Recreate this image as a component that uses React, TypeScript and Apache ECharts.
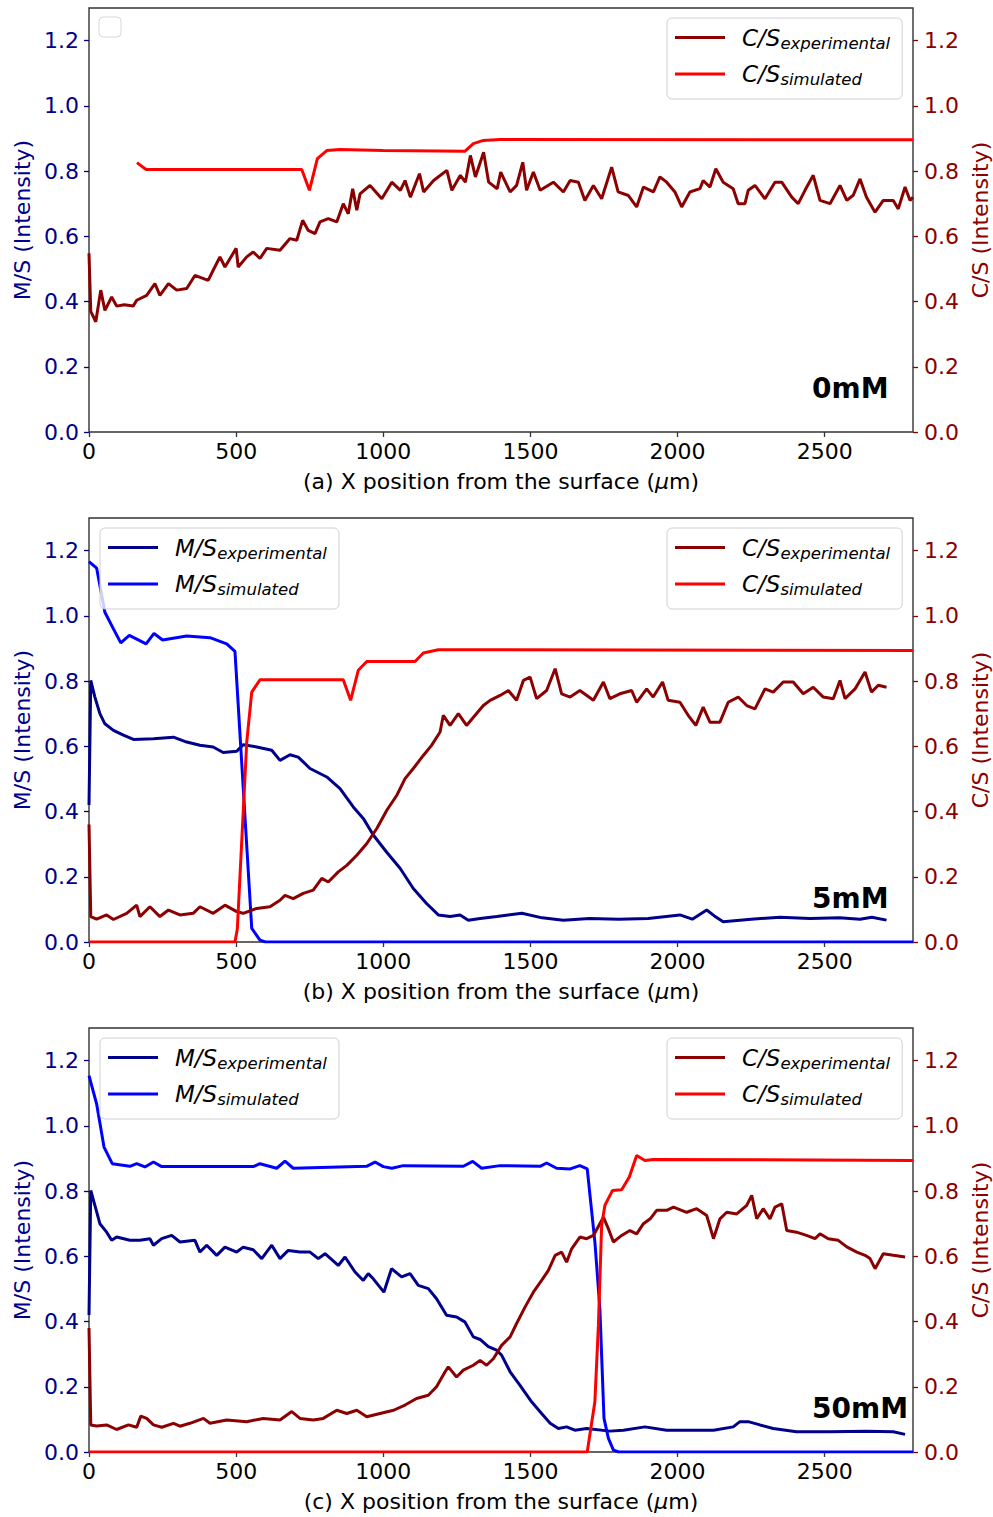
import React, { useEffect, useRef } from "react";
import * as echarts from "echarts";

const FONT = '"DejaVu Sans", "Noto Sans", sans-serif';
const NAVY = "#00008B";
const DRED = "#8B0000";

const X_TICKS = [0, 500, 1000, 1500, 2000, 2500];
const Y_TICKS = [0, 0.2, 0.4, 0.6, 0.8, 1.0, 1.2];
const PANEL_TAGS = ["0mM", "5mM", "50mM"];
const X_NAMES = [
  "(a) X position from the surface ({mu|μ}m)",
  "(b) X position from the surface ({mu|μ}m)",
  "(c) X position from the surface ({mu|μ}m)",
];

// Panel (a) 0mM
const cs0Exp: number[][] = [
  [0, 0.548], [6, 0.37], [23, 0.338], [40, 0.435], [54, 0.373], [77, 0.414], [94, 0.386], [120, 0.39], [150, 0.386],
  [162, 0.404], [196, 0.419], [224, 0.455], [241, 0.419], [270, 0.455], [298, 0.435], [332, 0.44], [360, 0.48],
  [405, 0.465], [422, 0.496], [445, 0.537], [462, 0.506], [500, 0.563], [507, 0.506], [536, 0.537], [558, 0.552],
  [581, 0.532], [604, 0.563], [649, 0.557], [683, 0.593], [706, 0.588], [726, 0.649], [745, 0.618], [768, 0.608],
  [785, 0.644], [813, 0.654], [842, 0.644], [864, 0.7], [881, 0.669], [896, 0.746], [910, 0.68], [921, 0.73],
  [955, 0.756], [995, 0.715], [1029, 0.766], [1058, 0.741], [1074, 0.771], [1092, 0.72], [1123, 0.792], [1137, 0.736],
  [1171, 0.771], [1216, 0.802], [1233, 0.741], [1262, 0.787], [1279, 0.766], [1296, 0.848], [1313, 0.782],
  [1341, 0.858], [1358, 0.766], [1387, 0.746], [1399, 0.797], [1431, 0.736], [1453, 0.756], [1474, 0.827],
  [1487, 0.741], [1510, 0.797], [1533, 0.741], [1578, 0.766], [1612, 0.736], [1635, 0.771], [1663, 0.766],
  [1685, 0.71], [1714, 0.756], [1742, 0.715], [1776, 0.812], [1798, 0.736], [1833, 0.725], [1861, 0.69],
  [1884, 0.751], [1918, 0.736], [1940, 0.782], [1963, 0.766], [1991, 0.736], [2014, 0.69], [2042, 0.736],
  [2076, 0.746], [2087, 0.771], [2110, 0.751], [2130, 0.807], [2155, 0.766], [2189, 0.746], [2206, 0.7],
  [2229, 0.7], [2240, 0.741], [2263, 0.756], [2297, 0.715], [2331, 0.766], [2354, 0.766], [2388, 0.72], [2410, 0.7],
  [2433, 0.741], [2461, 0.787], [2484, 0.71], [2518, 0.7], [2552, 0.756], [2575, 0.71], [2597, 0.726], [2620, 0.776],
  [2642, 0.72], [2671, 0.674], [2699, 0.71], [2733, 0.71], [2750, 0.684], [2773, 0.751], [2790, 0.71], [2800, 0.72],
];
const cs0Sim: number[][] = [
  [163, 0.826], [194, 0.805], [723, 0.805], [749, 0.741], [776, 0.838], [808, 0.863], [853, 0.866], [1000, 0.863],
  [1278, 0.861], [1306, 0.884], [1340, 0.894], [1397, 0.897], [2800, 0.896],
];

// Panel (b) 5mM
const ms5Exp: number[][] = [
  [0, 0.42], [6, 0.802], [20, 0.751], [37, 0.7], [54, 0.669], [83, 0.649], [117, 0.634], [151, 0.621], [219, 0.623],
  [287, 0.628], [332, 0.613], [377, 0.603], [422, 0.598], [456, 0.581], [502, 0.585], [524, 0.605], [570, 0.598],
  [621, 0.588], [649, 0.557], [683, 0.574], [711, 0.567], [751, 0.532], [808, 0.506], [853, 0.47], [898, 0.414],
  [932, 0.379], [966, 0.328], [1011, 0.276], [1057, 0.226], [1102, 0.164], [1147, 0.118], [1187, 0.083],
  [1227, 0.078], [1261, 0.083], [1289, 0.067], [1329, 0.072], [1386, 0.078], [1471, 0.088], [1540, 0.074],
  [1612, 0.067], [1700, 0.072], [1800, 0.07], [1900, 0.072], [2008, 0.083], [2050, 0.07], [2099, 0.098],
  [2125, 0.08], [2155, 0.062], [2250, 0.07], [2348, 0.076], [2450, 0.072], [2550, 0.074], [2620, 0.07],
  [2660, 0.076], [2710, 0.067],
];
const ms5Sim: number[][] = [
  [0, 1.166], [26, 1.146], [54, 1.011], [83, 0.96], [108, 0.917], [137, 0.94], [194, 0.914], [221, 0.946],
  [250, 0.926], [332, 0.938], [411, 0.933], [468, 0.914], [496, 0.891], [553, 0.042], [581, 0.006], [600, 0],
  [2800, 0],
];
const cs5Exp: number[][] = [
  [0, 0.36], [6, 0.078], [26, 0.07], [60, 0.083], [83, 0.069], [128, 0.088], [162, 0.113], [173, 0.078],
  [207, 0.108], [241, 0.078], [270, 0.098], [309, 0.083], [354, 0.088], [377, 0.108], [422, 0.088], [462, 0.113],
  [502, 0.093], [524, 0.088], [570, 0.103], [615, 0.108], [649, 0.128], [666, 0.143], [694, 0.133], [728, 0.149],
  [762, 0.159], [791, 0.195], [813, 0.184], [847, 0.215], [876, 0.235], [910, 0.266], [944, 0.302], [978, 0.348],
  [1012, 0.404], [1046, 0.45], [1074, 0.501], [1102, 0.532], [1136, 0.572], [1164, 0.603], [1193, 0.644],
  [1204, 0.695], [1227, 0.664], [1255, 0.7], [1283, 0.664], [1312, 0.695], [1340, 0.725], [1363, 0.741],
  [1397, 0.756], [1425, 0.771], [1453, 0.741], [1476, 0.802], [1499, 0.812], [1521, 0.746], [1555, 0.771],
  [1584, 0.838], [1606, 0.761], [1635, 0.751], [1668, 0.771], [1714, 0.741], [1748, 0.797], [1770, 0.746],
  [1804, 0.761], [1844, 0.771], [1861, 0.735], [1895, 0.776], [1917, 0.751], [1949, 0.797], [1968, 0.741],
  [2008, 0.735], [2036, 0.695], [2062, 0.664], [2087, 0.72], [2110, 0.674], [2144, 0.674], [2172, 0.735],
  [2206, 0.751], [2235, 0.725], [2263, 0.715], [2297, 0.776], [2325, 0.766], [2359, 0.797], [2393, 0.797],
  [2427, 0.761], [2461, 0.781], [2495, 0.751], [2529, 0.746], [2552, 0.802], [2569, 0.746], [2603, 0.776],
  [2637, 0.828], [2659, 0.766], [2682, 0.787], [2710, 0.781],
];
const cs5Sim: number[][] = [
  [0, 0], [496, 0], [504, 0.04], [536, 0.613], [553, 0.766], [581, 0.804], [864, 0.804], [889, 0.741], [915, 0.833],
  [944, 0.86], [1108, 0.86], [1136, 0.886], [1187, 0.896], [2800, 0.894],
];

// Panel (c) 50mM
const ms50Exp: number[][] = [
  [0, 0.42], [6, 0.802], [20, 0.756], [37, 0.7], [60, 0.674], [77, 0.649], [94, 0.659], [139, 0.649], [173, 0.649],
  [207, 0.654], [219, 0.634], [247, 0.654], [281, 0.664], [309, 0.644], [360, 0.649], [377, 0.613], [400, 0.634],
  [434, 0.603], [462, 0.628], [502, 0.613], [524, 0.628], [558, 0.62], [587, 0.593], [621, 0.634], [649, 0.593],
  [677, 0.618], [717, 0.613], [751, 0.613], [779, 0.593], [802, 0.608], [847, 0.572], [870, 0.598], [904, 0.552],
  [932, 0.526], [949, 0.547], [966, 0.531], [1002, 0.49], [1028, 0.562], [1062, 0.537], [1091, 0.547],
  [1119, 0.511], [1153, 0.501], [1181, 0.47], [1215, 0.419], [1249, 0.414], [1277, 0.399], [1306, 0.353],
  [1329, 0.345], [1357, 0.323], [1385, 0.312], [1402, 0.297], [1431, 0.246], [1464, 0.205], [1504, 0.154],
  [1538, 0.118], [1567, 0.088], [1595, 0.072], [1623, 0.077], [1651, 0.067], [1691, 0.072], [1770, 0.064],
  [1816, 0.067], [1889, 0.077], [1963, 0.067], [2054, 0.067], [2122, 0.067], [2189, 0.077], [2212, 0.093],
  [2240, 0.093], [2280, 0.083], [2325, 0.072], [2404, 0.062], [2518, 0.062], [2642, 0.064], [2733, 0.062],
  [2773, 0.054],
];
const ms50Sim: number[][] = [
  [0, 1.154], [26, 1.067], [51, 0.935], [79, 0.884], [139, 0.876], [162, 0.884], [190, 0.874], [219, 0.889],
  [247, 0.875], [558, 0.875], [581, 0.884], [638, 0.87], [666, 0.892], [694, 0.87], [943, 0.876], [972, 0.889],
  [1000, 0.875], [1029, 0.87], [1068, 0.878], [1272, 0.876], [1304, 0.891], [1334, 0.87], [1397, 0.878],
  [1533, 0.876], [1555, 0.886], [1589, 0.87], [1635, 0.868], [1668, 0.878], [1693, 0.868], [1719, 0.644],
  [1736, 0.44], [1750, 0.103], [1765, 0.042], [1782, 0.006], [1800, 0], [2800, 0],
];
const cs50Exp: number[][] = [
  [0, 0.38], [6, 0.083], [26, 0.08], [60, 0.083], [94, 0.069], [134, 0.083], [162, 0.076], [176, 0.11],
  [196, 0.103], [219, 0.083], [247, 0.076], [287, 0.088], [309, 0.079], [343, 0.088], [389, 0.103], [411, 0.088],
  [468, 0.098], [536, 0.093], [592, 0.103], [649, 0.098], [689, 0.124], [717, 0.103], [762, 0.098], [796, 0.103],
  [842, 0.128], [876, 0.118], [910, 0.128], [944, 0.108], [989, 0.118], [1035, 0.128], [1074, 0.144],
  [1113, 0.164], [1153, 0.174], [1181, 0.2], [1210, 0.246], [1221, 0.261], [1249, 0.23], [1272, 0.251],
  [1306, 0.266], [1329, 0.281], [1351, 0.266], [1374, 0.286], [1402, 0.327], [1431, 0.353], [1453, 0.394],
  [1482, 0.445], [1510, 0.49], [1538, 0.526], [1561, 0.557], [1584, 0.603], [1606, 0.613], [1623, 0.582],
  [1640, 0.623], [1668, 0.659], [1691, 0.654], [1714, 0.664], [1748, 0.72], [1765, 0.684], [1782, 0.644],
  [1810, 0.664], [1838, 0.679], [1861, 0.669], [1884, 0.7], [1907, 0.715], [1929, 0.741], [1963, 0.741],
  [1986, 0.751], [2031, 0.735], [2065, 0.746], [2099, 0.725], [2122, 0.654], [2144, 0.715], [2167, 0.735],
  [2201, 0.73], [2235, 0.756], [2252, 0.787], [2269, 0.715], [2291, 0.746], [2314, 0.715], [2331, 0.751],
  [2354, 0.761], [2371, 0.679], [2404, 0.674], [2438, 0.664], [2467, 0.654], [2484, 0.669], [2512, 0.654],
  [2546, 0.649], [2575, 0.629], [2609, 0.613], [2637, 0.603], [2654, 0.593], [2671, 0.562], [2699, 0.608],
  [2733, 0.603], [2773, 0.598],
];
const cs50Sim: number[][] = [
  [0, 0], [1693, 0], [1719, 0.154], [1731, 0.389], [1742, 0.695], [1753, 0.756], [1779, 0.802], [1810, 0.804],
  [1836, 0.843], [1861, 0.909], [1889, 0.894], [1917, 0.897], [2800, 0.894],
];

const MS_EXP = "M/S experimental";
const MS_SIM = "M/S simulated";
const CS_EXP = "C/S experimental";
const CS_SIM = "C/S simulated";

const GRID_TOPS = [8, 518, 1028];
const GRID_LEFT = 89;
const GRID_W = 824;
const GRID_H = 424;

function legendFormatter(name: string) {
  const [main, sub] = name.split(" ");
  return `{sp| }{m|${main}}{s|${sub}}`;
}

const legendRich = {
  sp: { width: 12, fontSize: 10 },
  m: { fontSize: 23, fontStyle: "italic", fontFamily: FONT, color: "#000", lineHeight: 28 },
  s: { fontSize: 16.5, fontStyle: "italic", fontFamily: FONT, color: "#000", padding: [11, 0, 0, 0] },
};

function makeLegend(left: number, top: number, names: string[]) {
  return {
    orient: "vertical",
    left,
    top,
    data: names,
    icon: "rect",
    itemWidth: 50,
    itemHeight: 3,
    itemGap: 11,
    padding: [8, 12, 11, 8],
    backgroundColor: "rgba(255,255,255,0.8)",
    borderColor: "#d0d0d0",
    borderWidth: 1,
    borderRadius: 5,
    selectedMode: false,
    formatter: legendFormatter,
    textStyle: { rich: legendRich, fontFamily: FONT, color: "#000" },
  };
}

function lineSeries(name: string, data: number[][], color: string, xi: number, yi: number) {
  return {
    type: "line",
    name,
    data,
    xAxisIndex: xi,
    yAxisIndex: yi,
    showSymbol: false,
    symbol: "none",
    lineStyle: { color, width: 3 },
    itemStyle: { color },
    silent: true,
  };
}

export default function App() {
  const ref = useRef<HTMLDivElement>(null);

  useEffect(() => {
    if (!ref.current) return;
    const chart = echarts.init(ref.current, undefined, { renderer: "svg" });

    const grid = GRID_TOPS.map((top) => ({
      left: GRID_LEFT,
      top,
      width: GRID_W,
      height: GRID_H,
      show: true,
      borderColor: "#333",
      borderWidth: 1.4,
      backgroundColor: "transparent",
      containLabel: false,
      outerBoundsMode: "none",
    }));

    const xAxis = GRID_TOPS.map((_, i) => ({
      type: "value",
      gridIndex: i,
      min: 0,
      max: 2800,
      interval: 500,
      axisLine: { show: false },
      axisTick: { show: true, length: 5, lineStyle: { color: "#333", width: 1.3 }, customValues: X_TICKS },
      axisLabel: {
        fontSize: 22,
        color: "#000",
        fontFamily: FONT,
        margin: 8,
        customValues: X_TICKS,
        formatter: (v: number) => String(v),
      },
      splitLine: { show: false },
      name: X_NAMES[i],
      nameLocation: "middle",
      nameGap: 38,
      nameTextStyle: {
        fontSize: 22,
        color: "#000",
        fontFamily: FONT,
        rich: { mu: { fontSize: 22, fontStyle: "italic", fontFamily: FONT, color: "#000" } },
      },
    }));

    const yAxis: any[] = [];
    GRID_TOPS.forEach((_, i) => {
      yAxis.push({
        type: "value",
        gridIndex: i,
        position: "left",
        min: 0,
        max: 1.3,
        interval: 0.2,
        axisLine: { show: false },
        axisTick: { show: true, length: 5, lineStyle: { color: NAVY, width: 1.3 }, customValues: Y_TICKS },
        axisLabel: {
          fontSize: 22,
          color: NAVY,
          fontFamily: FONT,
          margin: 10,
          customValues: Y_TICKS,
          formatter: (v: number) => v.toFixed(1),
        },
        splitLine: { show: false },
        name: "M/S (Intensity)",
        nameLocation: "middle",
        nameRotate: 90,
        nameGap: 56,
        nameTextStyle: { fontSize: 22, color: NAVY, fontFamily: FONT },
      });
      yAxis.push({
        type: "value",
        gridIndex: i,
        position: "right",
        min: 0,
        max: 1.3,
        interval: 0.2,
        axisLine: { show: false },
        axisTick: { show: true, length: 5, lineStyle: { color: DRED, width: 1.3 }, customValues: Y_TICKS },
        axisLabel: {
          fontSize: 22,
          color: DRED,
          fontFamily: FONT,
          margin: 11,
          customValues: Y_TICKS,
          formatter: (v: number) => v.toFixed(1),
        },
        splitLine: { show: false },
        name: "C/S (Intensity)",
        nameLocation: "middle",
        nameRotate: 90,
        nameGap: 52,
        nameTextStyle: { fontSize: 22, color: DRED, fontFamily: FONT },
      });
    });

    const series = [
      lineSeries(CS_EXP, cs0Exp, DRED, 0, 1),
      lineSeries(CS_SIM, cs0Sim, "#FF0000", 0, 1),
      lineSeries(MS_EXP, ms5Exp, NAVY, 1, 2),
      lineSeries(MS_SIM, ms5Sim, "#0000FF", 1, 2),
      lineSeries(CS_EXP, cs5Exp, DRED, 1, 3),
      lineSeries(CS_SIM, cs5Sim, "#FF0000", 1, 3),
      lineSeries(MS_EXP, ms50Exp, NAVY, 2, 4),
      lineSeries(MS_SIM, ms50Sim, "#0000FF", 2, 4),
      lineSeries(CS_EXP, cs50Exp, DRED, 2, 5),
      lineSeries(CS_SIM, cs50Sim, "#FF0000", 2, 5),
    ];

    const legend = [
      makeLegend(667, 18, [CS_EXP, CS_SIM]),
      makeLegend(667, 528, [CS_EXP, CS_SIM]),
      makeLegend(100, 528, [MS_EXP, MS_SIM]),
      makeLegend(667, 1038, [CS_EXP, CS_SIM]),
      makeLegend(100, 1038, [MS_EXP, MS_SIM]),
    ];

    const graphic = [
      {
        type: "rect",
        shape: { x: 99, y: 17, width: 22, height: 20, r: 4 },
        style: { fill: "rgba(255,255,255,0.8)", stroke: "#d8d8d8", lineWidth: 1 },
        z: 10,
      },
      ...GRID_TOPS.map((top, i) => ({
        type: "text",
        x: 812,
        y: top + 380,
        style: {
          text: PANEL_TAGS[i],
          fill: "#000",
          font: `bold 28px ${FONT}`,
          fontSize: 28,
          fontWeight: "bold",
          fontFamily: FONT,
          align: "left",
          verticalAlign: "middle",
        },
        z: 10,
      })),
    ];

    chart.setOption({
      animation: false,
      backgroundColor: "#fff",
      textStyle: { fontFamily: FONT },
      grid,
      xAxis,
      yAxis,
      series,
      legend,
      graphic,
    });

    return () => chart.dispose();
  }, []);

  return (
    <div
      ref={ref}
      style={{ position: "absolute", left: 0, top: 0, width: 993, height: 1517 }}
    />
  );
}
